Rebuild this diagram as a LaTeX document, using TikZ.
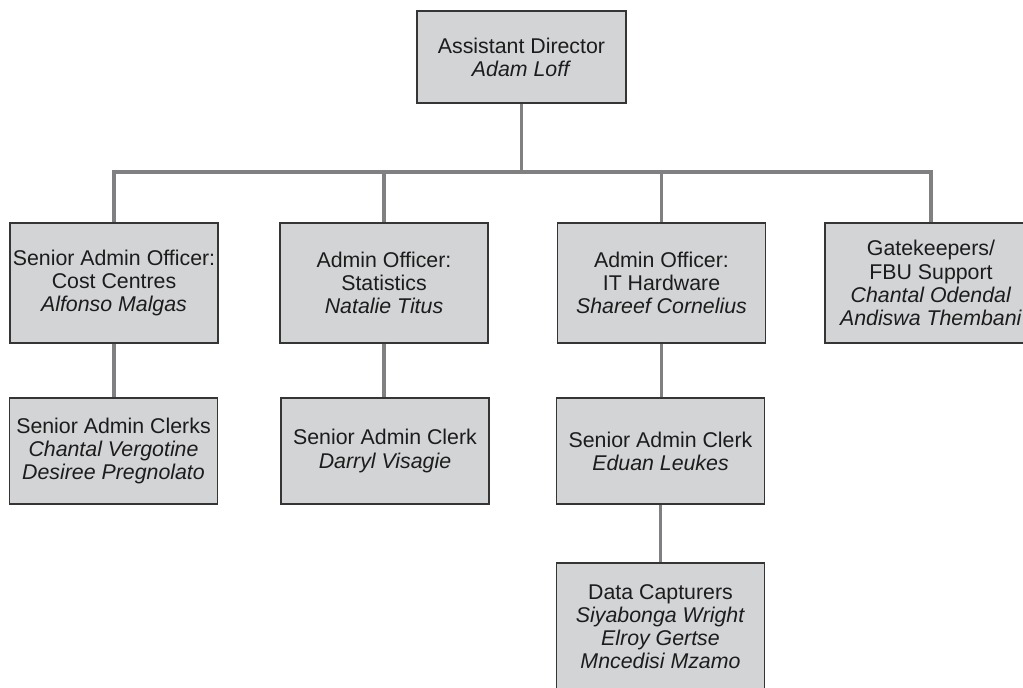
\documentclass[tikz,border=0pt]{standalone}
\usepackage{fontspec}
\setmainfont{Liberation Sans}
\definecolor{boxfill}{HTML}{D3D4D6}
\definecolor{boxline}{HTML}{353535}
\definecolor{connline}{HTML}{808082}
\definecolor{txt}{HTML}{1C1C1C}
\begin{document}
\begin{tikzpicture}[x=0.75pt,y=-0.75pt,
  orgbox/.style={draw=boxline, line width=1pt, fill=boxfill, inner sep=0pt,
    align=center, text=txt, font=\fontsize{16}{17.4}\selectfont,
    minimum width=156pt},
  rowtwo/.style={orgbox, minimum height=90pt},
  rowthree/.style={orgbox, minimum height=79.5pt},
  conn/.style={draw=connline, line width=2.5pt, line join=miter}]
\useasboundingbox (0,0) rectangle (1023,687);
\clip (0,0) rectangle (1023,687);

% head of the unit
\node[orgbox, minimum width=156.75pt, minimum height=69pt] (top) at (521.5,57)
  {Assistant Director\\\textit{Adam Loff}};

% officers
\node[rowtwo] (b1) at (114,283)
  {Senior Admin Officer:\\Cost Centres\\\textit{Alfonso Malgas}};
\node[rowtwo] (b2) at (384,283)
  {Admin Officer:\\Statistics\\\textit{Natalie Titus}};
\node[rowtwo] (b3) at (661.5,283)
  {Admin Officer:\\IT Hardware\\\textit{Shareef Cornelius}};
\node[rowtwo, minimum width=159pt] (b4) at (931,283)
  {Gatekeepers/\\FBU Support\\\textit{Chantal Odendal}\\\textit{Andiswa Thembani}};

% clerks
\node[rowthree] (c1) at (113.5,451)
  {Senior Admin Clerks\\\textit{Chantal Vergotine}\\\textit{Desiree Pregnolato}};
\node[rowthree] (c2) at (385,451)
  {Senior Admin Clerk\\\textit{Darryl Visagie}};
\node[rowthree] (c3) at (660.5,451)
  {Senior Admin Clerk\\\textit{Eduan Leukes}};

% data capturers
\node[orgbox, minimum height=95.25pt] (d3) at (660.5,626.5)
  {Data Capturers\\\textit{Siyabonga Wright}\\\textit{Elroy Gertse}\\\textit{Mncedisi Mzamo}};

% connectors
\coordinate (bus) at (521.5,172);
\draw[conn] (top.south) -- (top.south |- bus);
\draw[conn] (b1.north) |- (bus) -| (b4.north);
\draw[conn] (b2.north) -- (b2.north |- bus);
\draw[conn] (b3.north) -- (b3.north |- bus);
\draw[conn] (b1.south) -- (b1.south |- c1.north);
\draw[conn] (b2.south) -- (b2.south |- c2.north);
\draw[conn] (b3.south) -- (b3.south |- c3.north);
\draw[conn] (c3.south) -- (c3.south |- d3.north);
\end{tikzpicture}
\end{document}
